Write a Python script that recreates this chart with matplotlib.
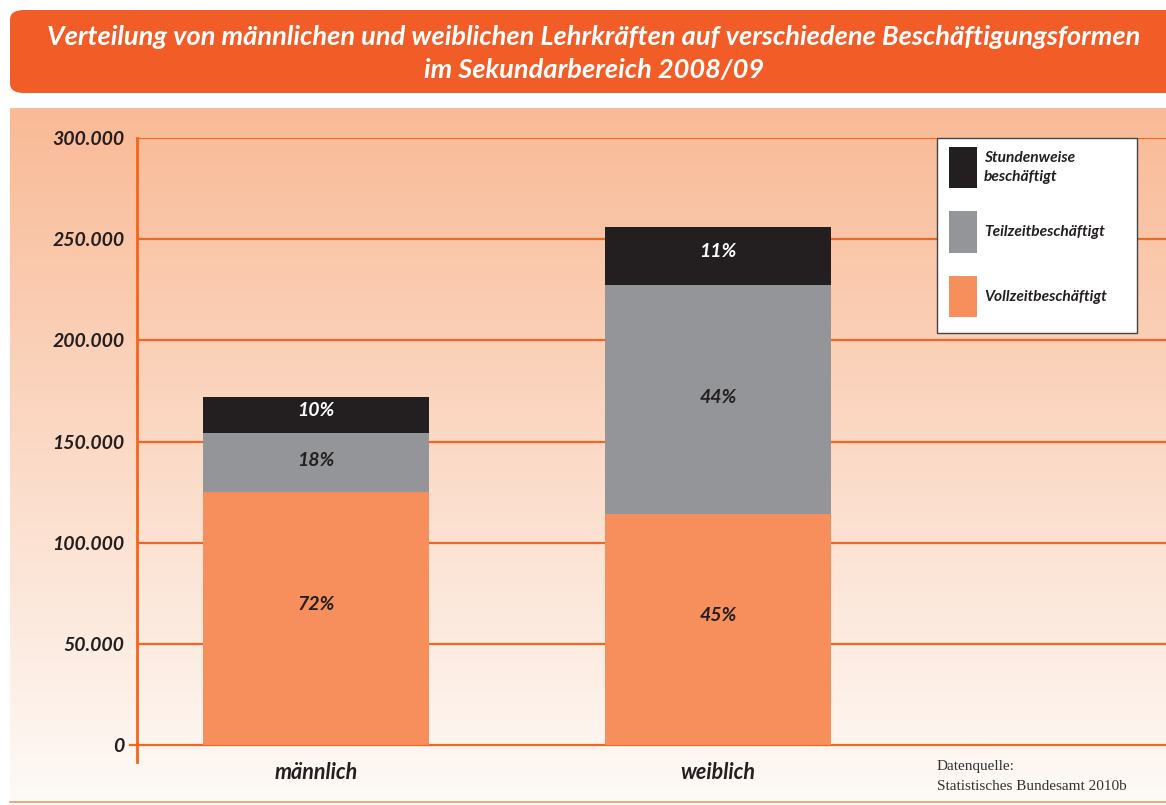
import matplotlib.pyplot as plt
from matplotlib.patches import FancyBboxPatch, Rectangle
import numpy as np

# data
categories = ['männlich', 'weiblich']
vollzeit = [125000, 114200]
teilzeit = [29200, 113100]
stundenweise = [17800, 28700]
pct_voll = ['72%', '45%']
pct_teil = ['18%', '44%']
pct_stund = ['10%', '11%']
yticks = [0, 50000, 100000, 150000, 200000, 250000, 300000]
ytick_labels = ['0', '50.000', '100.000', '150.000', '200.000', '250.000', '300.000']

c_voll = '#F78F5C'
c_teil = '#939598'
c_stund = '#231F20'
c_grid = '#F26522'
c_banner = '#F25C27'
c_text = '#231F20'

plt.rcParams['font.family'] = ['Lato', 'DejaVu Sans']

fig = plt.figure(figsize=(11.66, 8.05), dpi=100)
W, H = 1166, 805

def fx(px):
    return px / W

def fy(py):
    return 1 - py / H

# background panel with gradient
bg = fig.add_axes([fx(10), fy(800), fx(1156), (800 - 108) / H])
top = np.array([249, 186, 150]) / 255
bot = np.array([254, 250, 247]) / 255
t = np.linspace(0, 1, 256)[:, None]
grad = top * (1 - t) + bot * t
bg.imshow(grad[:, None, :], aspect='auto', extent=[0, 1, 0, 1])
bg.set_axis_off()

# title banner
fig.patches.append(FancyBboxPatch((fx(10), fy(93)), fx(1170), (93 - 10) / H,
                                  boxstyle='round,pad=0,rounding_size=0.012',
                                  transform=fig.transFigure, fc=c_banner, ec='none'))
fig.text(fx(594), fy(37), 'Verteilung von männlichen und weiblichen Lehrkräften auf verschiedene Beschäftigungsformen',
         ha='center', va='center', color='white', fontsize=19.6, fontweight='bold', style='italic')
fig.text(fx(594), fy(70), 'im Sekundarbereich 2008/09',
         ha='center', va='center', color='white', fontsize=19.6, fontweight='bold', style='italic')

# bottom rule
fig.lines.append(plt.Line2D([fx(10), 1], [fy(802), fy(802)], transform=fig.transFigure,
                            color=c_grid, lw=1.2, alpha=0.7))

# main axes
ax = fig.add_axes([fx(137), fy(762), 1 - fx(137), (762 - 138) / H])
ax.patch.set_alpha(0)
ax.set_ylim(-8400, 300000)
ax.set_xlim(-0.445, 2.114)

x = np.arange(len(categories))
w = 0.562
for yv in yticks:
    ax.axhline(yv, color=c_grid, lw=1.6, zorder=1)

ax.bar(x, vollzeit, w, color=c_voll, zorder=2)
ax.bar(x, teilzeit, w, bottom=vollzeit, color=c_teil, zorder=2)
bottom3 = [a + b for a, b in zip(vollzeit, teilzeit)]
ax.bar(x, stundenweise, w, bottom=bottom3, color=c_stund, zorder=2)

lab_kw = dict(ha='center', va='center', fontsize=14, fontweight='bold', style='italic', zorder=3)
for i in range(len(categories)):
    ax.text(x[i], vollzeit[i] / 2 + 7000, pct_voll[i], color=c_text, **lab_kw)
    ax.text(x[i], vollzeit[i] + teilzeit[i] / 2 + 1200, pct_teil[i], color=c_text, **lab_kw)
    ax.text(x[i], bottom3[i] + stundenweise[i] / 2 + 2200, pct_stund[i], color='white', **lab_kw)

for s in ['top', 'right', 'bottom']:
    ax.spines[s].set_visible(False)
ax.spines['left'].set_color(c_grid)
ax.spines['left'].set_linewidth(2)
ax.set_yticks(yticks)
ax.set_yticklabels(ytick_labels, fontsize=14, fontweight='bold', style='italic', color=c_text)
ax.tick_params(axis='y', length=0, pad=9)
ax.set_xticks(x)
ax.set_xticklabels(categories, fontsize=15.5, fontweight='bold', style='italic', color=c_text)
ax.tick_params(axis='x', length=0, pad=0)
# small tick at zero
ax.plot([-0.462, -0.445], [0, 0], color=c_grid, lw=1.6, clip_on=False)

# legend box
fig.patches.append(Rectangle((fx(937), fy(333)), fx(200), (333 - 138) / H, transform=fig.transFigure,
                             fc='white', ec='#444444', lw=1, zorder=5))
legend_items = [(c_stund, 'Stundenweise\nbeschäftigt', 147, 188),
                (c_teil, 'Teilzeitbeschäftigt', 211, 253),
                (c_voll, 'Vollzeitbeschäftigt', 276, 317)]
for col, lab, y0, y1 in legend_items:
    fig.patches.append(Rectangle((fx(949), fy(y1)), fx(28), (y1 - y0) / H, transform=fig.transFigure,
                                 fc=col, ec='none', zorder=6))
    fig.text(fx(984), fy((y0 + y1) / 2), lab, ha='left', va='center', fontsize=11.2,
             fontweight='bold', style='italic', color=c_text, linespacing=1.5, zorder=7)

# source
fig.text(fx(937), fy(766), 'Datenquelle:', ha='left', va='center', fontsize=11,
         family='Liberation Serif', color='#333333')
fig.text(fx(937), fy(786), 'Statistisches Bundesamt 2010b', ha='left', va='center', fontsize=11,
         family='Liberation Serif', color='#333333')

fig.savefig('out.png', dpi=100)
